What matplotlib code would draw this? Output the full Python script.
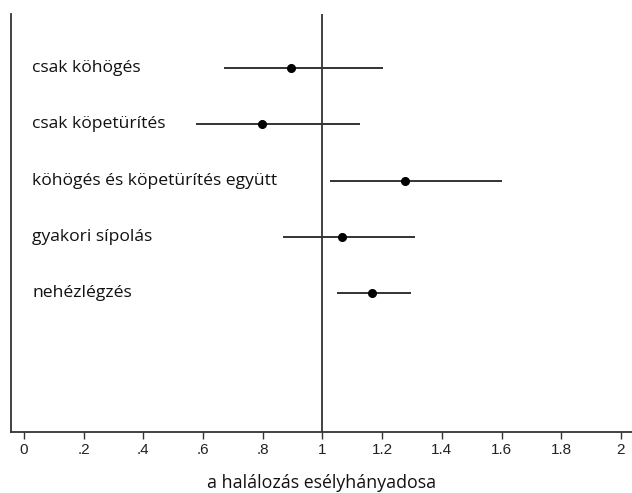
import matplotlib
matplotlib.use("Agg")
import matplotlib.pyplot as plt

labels = ["csak köhögés", "csak köpetürítés", "köhögés és köpetürítés együtt",
          "gyakori sípolás", "nehézlégzés"]
odds = [0.894, 0.797, 1.276, 1.065, 1.166]
ci_low = [0.67, 0.576, 1.025, 0.868, 1.05]
ci_high = [1.203, 1.126, 1.60, 1.31, 1.297]
xticks = [0, 0.2, 0.4, 0.6, 0.8, 1, 1.2, 1.4, 1.6, 1.8, 2]
xticklabels = ["0", ".2", ".4", ".6", ".8", "1", "1.2", "1.4", "1.6", "1.8", "2"]

fig = plt.figure(figsize=(6.32, 4.93), dpi=100)
ax = fig.add_axes([11/632, 61/493, 1 - 11/632, (432-14)/493])
ypos = list(range(1, len(labels) + 1))
col = "#333333"
ax.hlines(ypos, ci_low, ci_high, color=col, lw=1.4)
ax.plot(odds, ypos, "o", color="black", ms=5.5)
ax.axvline(1, color=col, lw=1.3)
for y, lab in zip(ypos, labels):
    ax.text(0.027, y, lab, fontsize=12.6, family="Open Sans", va="center", ha="left", color="#111111")
ax.set_xlim(-0.0436, 2.037)
ax.set_ylim(7.47, 0.04)
ax.set_yticks([])
ax.set_xticks(xticks)
ax.set_xticklabels(xticklabels, fontsize=11, family="Liberation Sans", color="#222222")
ax.tick_params(axis="x", length=5, width=1, color=col, pad=3)
for s in ["top", "right"]:
    ax.spines[s].set_visible(False)
for s in ["left", "bottom"]:
    ax.spines[s].set_color(col)
    ax.spines[s].set_linewidth(1.3)
ax.set_xlabel("a halálozás esélyhányadosa", fontsize=12.8, family="Open Sans", labelpad=12, color="#111111")
fig.savefig("out.png", dpi=100)
